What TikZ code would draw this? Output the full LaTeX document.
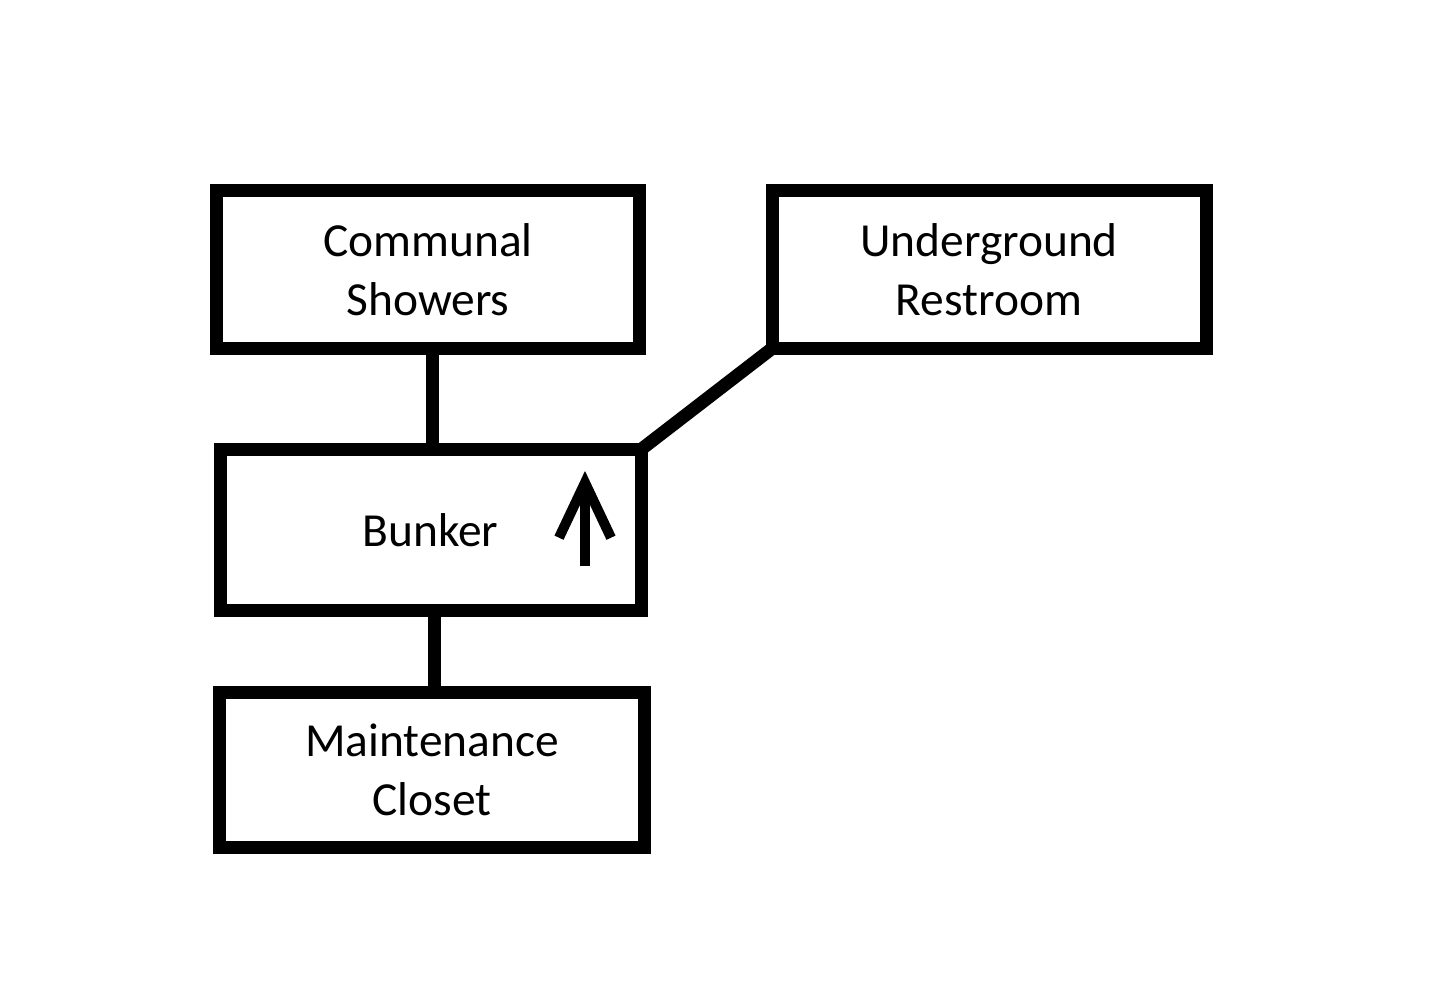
\documentclass[tikz,border=0pt]{standalone}
\usepackage{fontspec}
\setmainfont{Carlito}
\usepackage{tikz}
\usetikzlibrary{arrows.meta}

\begin{document}
\begin{tikzpicture}[
    room/.style={draw, line width=0.26cm, rectangle, align=center, inner sep=0pt, outer sep=0pt,
                 font=\fontsize{27}{33.5}\selectfont}
]
    \useasboundingbox (0, 0) rectangle (28.98, 20);
    \node[room, minimum width=8.46cm, minimum height=3.16cm] (showers)  at (8.56, 14.61)  {Communal\\Showers};
    \node[room, minimum width=8.68cm, minimum height=3.16cm] (restroom) at (19.78, 14.61) {Underground\\Restroom};
    \node[room, minimum width=8.42cm, minimum height=3.22cm] (bunker)   at (8.61, 9.4)    {Bunker};
    \node[room, minimum width=8.5cm,  minimum height=3.1cm]  (closet)   at (8.64, 4.605)  {Maintenance\\Closet};
    \draw[line width=0.26cm] ([xshift=0.08cm]showers.south) -- ([xshift=0.08cm]showers.south |- bunker.north);
    \draw[line width=0.26cm] ([xshift=0.07cm]bunker.south) -- ([xshift=0.07cm]bunker.south |- closet.north);
    \draw[line width=0.26cm] (bunker.north east) -- (restroom.south west);
    % stairs up
    \coordinate (up from) at ([xshift=3.09cm, yshift=-0.72cm]bunker.center);
    \coordinate (up to)   at ([xshift=3.09cm, yshift=1.18cm]bunker.center);
    \draw[line width=0.2cm, -{Straight Barb[length=1.1cm, width=1.04cm]}] (up from) -- (up to);
\end{tikzpicture}
\end{document}
